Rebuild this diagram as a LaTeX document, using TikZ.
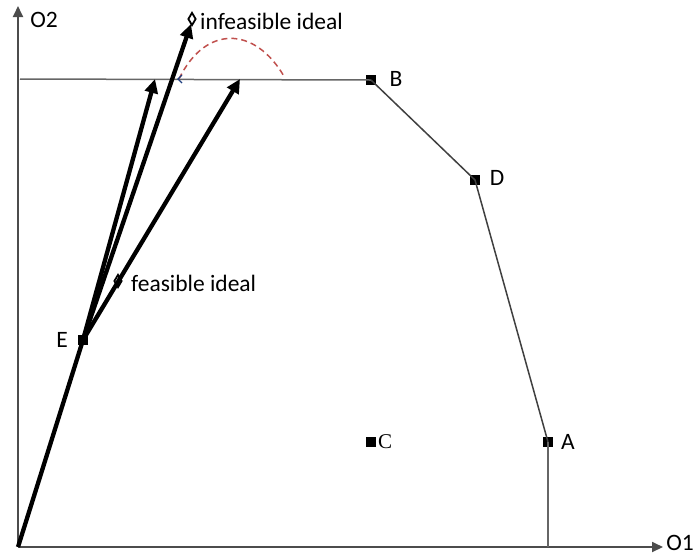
\documentclass[tikz,border=0pt]{standalone}
\usepackage{fontspec}
\setmainfont{Carlito}
\newfontfamily\serifC{Liberation Serif}
\usetikzlibrary{arrows.meta,shapes.geometric}
\begin{document}
\begin{tikzpicture}[x=1pt,y=-1pt,
  pt/.style={draw=none,fill=black,rectangle,minimum size=10pt,inner sep=0pt},
  lbl/.style={font=\fontsize{23.5}{26}\selectfont,inner sep=0pt},
  axis/.style={draw=black!70,line width=1.8pt,-{Triangle[length=11pt,width=10pt]}},
  edge/.style={draw=black!75,line width=1.5pt},
  thickarr/.style={line width=4.3pt,-{Triangle[length=14pt,width=13pt]}},
  dia/.style={diamond,draw=black,line width=1.8pt,minimum width=8pt,minimum height=13pt,inner sep=0pt,aspect=0.6}]
\useasboundingbox (0,0) rectangle (700,555);
% coordinates
\coordinate (O) at (18,547);
\coordinate (Ytip) at (18,6);
\coordinate (Xtip) at (663,547);
\coordinate (H0) at (20,79);
\coordinate (Abase) at (548,547);
\coordinate (t1) at (155,79);
\coordinate (t2) at (191,24);
\coordinate (t3) at (240,79);
\coordinate (c0) at (179,79);
\coordinate (c1) at (285,78);
% points
\node[pt] (E) at (83,340) {};
\node[pt] (B) at (371,80) {};
\node[pt] (D) at (475,180) {};
\node[pt] (A) at (548,442) {};
\node[pt] (C) at (371,442) {};
% axes
\draw[axis] (O) -- (Ytip);
\draw[axis] (O) -- (Xtip);
\node[lbl] (O2) at (44,20) {O2};
\node[lbl] (O1) at (680,543) {O1};
% frontier
\draw[edge,draw=black!60] (H0) -- (B.center);
\draw[edge] (B.center) -- (D.center) -- (A.center);
\draw[edge,draw=black!60] (A.center) -- (Abase);
% dashed curve
\draw[dashed,dash pattern=on 6pt off 4pt,line width=1.5pt,draw={rgb,255:red,192;green,80;blue,77}]
  (c0) .. controls (205,25) and (255,25) .. (c1);
\draw[line width=1.3pt,draw={rgb,255:red,31;green,63;blue,127}] (182,75) -- (178,79) -- (182,83);
% thick lines
\draw[line width=4.3pt] (O) -- (E.center);
\draw[thickarr] (E.center) -- (t1);
\draw[thickarr] (E.center) -- (t2);
\draw[thickarr] (E.center) -- (t3);
% ideals
\node[dia] (inf) at (192,19) {};
\node[dia] (fea) at (118,281) {};
\node[lbl,anchor=west] (infl) at (200,21) {infeasible ideal};
\node[lbl,anchor=west] (feal) at (131,283) {feasible ideal};
% labels
\node[lbl] (Bl) at (396,79) {B};
\node[lbl] (Dl) at (497,178) {D};
\node[lbl] (Al) at (568,442) {A};
\node[lbl] (El) at (62,340) {E};
\node[font=\fontsize{21}{24}\serifC,inner sep=0pt] (Cl) at (385,442) {C};
\end{tikzpicture}
\end{document}
